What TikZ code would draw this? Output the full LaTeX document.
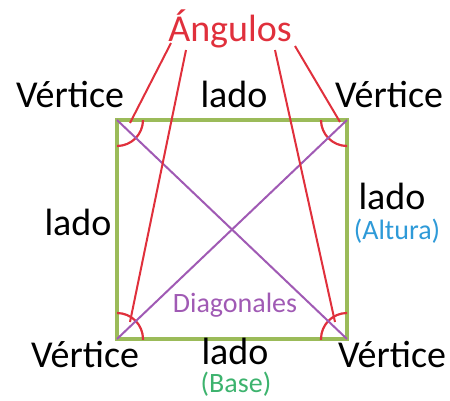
\documentclass[tikz,border=0pt]{standalone}
\usepackage{fontspec}
\setmainfont{Carlito}
\definecolor{sqgreen}{HTML}{9BBB59}
\definecolor{angred}{HTML}{E0303C}
\definecolor{diagpurple}{HTML}{A05AB4}
\definecolor{altblue}{HTML}{2E9AD8}
\definecolor{basegreen}{HTML}{3DB36E}
\begin{document}
\begin{tikzpicture}[x=1pt,y=-1pt,
  lbl/.style={anchor=base,inner sep=0pt,font=\fontsize{38}{40}\selectfont},
  sublbl/.style={anchor=base,inner sep=0pt,font=\fontsize{28}{30}\selectfont},
  side/.style={draw=sqgreen,line width=4.5pt},
  diag/.style={draw=diagpurple,line width=2pt},
  angline/.style={draw=angred,line width=2pt},
  angarc/.style={draw=angred,line width=2.2pt}]
\useasboundingbox (0,0) rectangle (450,400);
% corners
\coordinate (TL) at (117,120);
\coordinate (TR) at (347,120);
\coordinate (BL) at (117,339);
\coordinate (BR) at (347,339);
% square
\draw[side] (TL) -- (TR) -- (BR) -- (BL) -- cycle;
% angle arcs
\begin{scope}
  \clip (TL) rectangle (BR);
  \draw[angarc] (TL) circle[radius=26];
  \draw[angarc] (TR) circle[radius=26];
  \draw[angarc] (BL) circle[radius=26];
  \draw[angarc] (BR) circle[radius=26];
\end{scope}
% diagonals
\draw[diag] (TL) -- (BR);
\draw[diag] (TR) -- (BL);
% labels
\node[lbl,text=angred] (ang) at (230,41) {Ángulos};
\node[lbl] (vtl) at (70,107) {Vértice};
\node[lbl] (ltop) at (234,107) {lado};
\node[lbl] (vtr) at (389,107) {Vértice};
\node[lbl] (lleft) at (78,235) {lado};
\node[lbl] (lright) at (392,209) {lado};
\node[sublbl,text=altblue] (alt) at (397,239) {(Altura)};
\node[lbl] (vbl) at (85,367) {Vértice};
\node[lbl] (lbot) at (235,364) {lado};
\node[sublbl,text=basegreen] (base) at (236,392) {(Base)};
\node[lbl] (vbr) at (392,367) {Vértice};
\node[sublbl,text=diagpurple] (diagl) at (235,312) {Diagonales};
% angle pointer lines
\coordinate (a1) at (171,43);
\coordinate (a2) at (186,50);
\coordinate (a3) at (275,50);
\coordinate (a4) at (295,46);
\coordinate (e1) at (130,123);
\coordinate (e2) at (130,322);
\coordinate (e3) at (335,322);
\coordinate (e4) at (340,122);
\draw[angline] (a1) -- (e1);
\draw[angline] (a2) -- (e2);
\draw[angline] (a3) -- (e3);
\draw[angline] (a4) -- (e4);
\end{tikzpicture}
\end{document}
